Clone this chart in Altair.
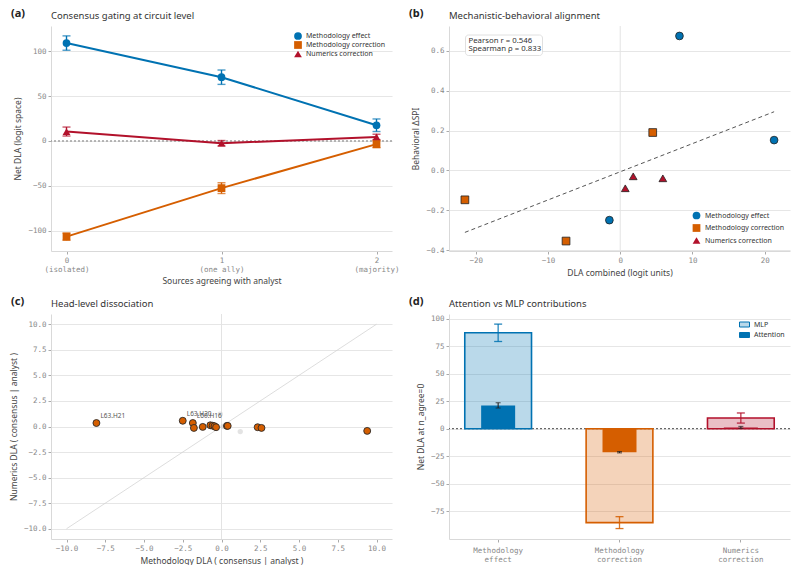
import altair as alt
import pandas as pd

SANS = "Noto Sans"
MONO = "DejaVu Sans Mono"
BLUE, ORANGE, RED = "#0072B2", "#D55E00", "#B2112B"

series_names = ["Methodology effect", "Methodology correction", "Numerics correction"]
series_colors = [BLUE, ORANGE, RED]
series_shapes = ["circle", "square", "triangle-up"]

# (a) circuit-level net DLA by number of agreeing sources
n_agree = [0, 1, 2]
n_agree_names = ["(isolated)", "(one ally)", "(majority)"]
dla_meth_effect = [109.0, 71.0, 17.5]
err_meth_effect = [8.0, 8.0, 7.0]
dla_meth_corr = [-106.5, -52.5, -3.5]
err_meth_corr = [4.0, 6.0, 4.0]
dla_num_corr = [10.5, -2.5, 4.5]
err_num_corr = [5.0, 3.0, 3.0]

# (b) mechanistic vs behavioral effect per condition
b_series = ["Methodology effect"] * 3 + ["Methodology correction"] * 3 + ["Numerics correction"] * 3
b_dla = [8.2, 21.3, -1.5, 4.5, -21.5, -7.5, 0.7, 1.8, 5.9]
b_dspi = [0.675, 0.152, -0.25, 0.19, -0.148, -0.355, -0.09, -0.03, -0.04]
pearson_r = 0.546
spearman_rho = 0.833

# (c) per-head DLA, methodology vs numerics
head_meth = [-8.07, -2.5, -1.85, -1.78, -1.21, -0.72, -0.57, -0.45, -0.35, 0.35, 0.40, 2.33, 2.58, 9.4]
head_num = [0.34, 0.56, 0.34, -0.14, -0.04, 0.12, 0.08, 0.03, -0.07, 0.06, 0.06, -0.07, -0.14, -0.43]
head_name = ["L63.H21", "L63.H20", "L60.H16", "", "", "", "", "", "", "", "", "", "", ""]
other_meth = [-0.08, 1.21, 0.1]
other_num = [1.2, -0.5, 0.0]
diag_range = [-10, 10]

# (d) attention vs MLP at n_agree = 0
comp_cats = ["Methodology effect", "Methodology correction", "Numerics correction"]
mlp_dla = [87.2, -85.4, 9.7]
mlp_err = [7.9, 5.4, 4.6]
attn_dla = [21.2, -21.4, 1.2]
attn_err = [2.4, 0.6, 0.9]
component_names = ["MLP", "Attention"]
component_fills = ["#bad9ea", BLUE]

W, H = 341, 225


def panel_header(tag, title):
    tag_layer = alt.Chart(pd.DataFrame({"t": [tag]})).mark_text(
        align="left", baseline="middle", font=SANS, fontSize=11, fontWeight="bold", color="#222"
    ).encode(x=alt.value(-40), y=alt.value(-12), text="t:N")
    title_layer = alt.Chart(pd.DataFrame({"t": [title]})).mark_text(
        align="left", baseline="middle", font=SANS, fontSize=9.5, color="#333"
    ).encode(x=alt.value(0), y=alt.value(-10.5), text="t:N")
    return [tag_layer, title_layer]


series_color_scale = alt.Scale(domain=series_names, range=series_colors)
series_shape_scale = alt.Scale(domain=series_names, range=series_shapes)

# ---------------- (a) ----------------
rows_a = []
for name, vals, errs in [
    (series_names[0], dla_meth_effect, err_meth_effect),
    (series_names[1], dla_meth_corr, err_meth_corr),
    (series_names[2], dla_num_corr, err_num_corr),
]:
    for n, v, e in zip(n_agree, vals, errs):
        rows_a.append({"n": n, "series": name, "dla": v, "lo": v - e, "hi": v + e})
df_a = pd.DataFrame(rows_a)

label_expr_a = (
    "split(datum.value == 0 ? '0|" + n_agree_names[0]
    + "' : (datum.value == 1 ? '1|" + n_agree_names[1] + "' : '2|" + n_agree_names[2] + "'), '|')"
)
sc_xa = alt.Scale(domain=[-0.1, 2.1], nice=False, zero=False)
sc_ya = alt.Scale(domain=[-122.5, 128], nice=False, zero=False)
ax_xa = alt.Axis(values=n_agree, labelExpr=label_expr_a, grid=False, title="Sources agreeing with analyst",
                 titlePadding=4, labelLineHeight=9)
ax_ya = alt.Axis(values=[-100, -50, 0, 50, 100], title="Net DLA (logit space)", titlePadding=5)
x_a = alt.X("n:Q", scale=sc_xa, axis=ax_xa)


def ya(field):
    return alt.Y(field, scale=sc_ya, axis=ax_ya)


legend_a = alt.Legend(orient="top-right", title=None, offset=6, padding=0, symbolSize=60, rowPadding=1,
                      labelFontSize=7, symbolStrokeWidth=0, symbolOpacity=1, labelOffset=4)
col_a = alt.Color("series:N", scale=series_color_scale, legend=None)

base_a = alt.Chart(df_a)
# legend carrier: listed first so its legend settings take precedence in the layer
key_a = base_a.mark_point(filled=True, opacity=0, size=1).encode(
    x=x_a, y=ya("dla:Q"),
    color=alt.Color("series:N", scale=series_color_scale, legend=legend_a),
    shape=alt.Shape("series:N", scale=series_shape_scale, legend=legend_a),
)
zero_a = alt.Chart(pd.DataFrame({"dla": [0]})).mark_rule(
    color="#777", strokeDash=[2, 2], strokeWidth=1).encode(y=ya("dla:Q"))
lines_a = base_a.mark_line(strokeWidth=2).encode(x=x_a, y=ya("dla:Q"), color=col_a)
err_a = base_a.mark_rule(strokeWidth=1.4).encode(x=x_a, y=ya("lo:Q"), y2="hi:Q", color=col_a)
cap_lo_a = base_a.mark_tick(orient="horizontal", size=8, thickness=1.4).encode(x=x_a, y=ya("lo:Q"), color=col_a)
cap_hi_a = base_a.mark_tick(orient="horizontal", size=8, thickness=1.4).encode(x=x_a, y=ya("hi:Q"), color=col_a)
pts_a = base_a.mark_point(filled=True, size=60, opacity=1).encode(
    x=x_a, y=ya("dla:Q"),
    color=col_a,
    shape=alt.Shape("series:N", scale=series_shape_scale, legend=None),
)
panel_a = alt.layer(key_a, zero_a, lines_a, err_a, cap_lo_a, cap_hi_a, pts_a,
                    *panel_header("(a)", "Consensus gating at circuit level")).properties(width=W, height=H)

# ---------------- (b) ----------------
df_b = pd.DataFrame({"series": b_series, "dla": b_dla, "dspi": b_dspi})
sc_xb = alt.Scale(domain=[-23.7, 23.5], nice=False, zero=False)
sc_yb = alt.Scale(domain=[-0.405, 0.725], nice=False, zero=False)
ax_xb = alt.Axis(values=[-20, -10, 0, 10, 20], grid=False, title="DLA combined (logit units)", titlePadding=5)
ax_yb = alt.Axis(values=[-0.4, -0.2, 0.0, 0.2, 0.4, 0.6], format=".1f", title="Behavioral ΔSPI", titlePadding=5)
x_b = alt.X("dla:Q", scale=sc_xb, axis=ax_xb)
y_b = alt.Y("dspi:Q", scale=sc_yb, axis=ax_yb)
legend_b = alt.Legend(orient="bottom-right", title=None, offset=5, padding=0, symbolSize=60, rowPadding=1.5,
                      labelFontSize=7, symbolStrokeColor="#222", symbolStrokeWidth=0.8, labelOffset=4)
vline_b = alt.Chart(pd.DataFrame({"dla": [0]})).mark_rule(color="#e3e3e3", strokeWidth=1).encode(x=x_b)
fit_b = alt.Chart(df_b).transform_regression("dla", "dspi").mark_line(
    color="#555", strokeDash=[4, 3], strokeWidth=1).encode(x=x_b, y=y_b)
pts_b = alt.Chart(df_b).mark_point(filled=True, size=60, opacity=1, stroke="#222", strokeWidth=0.8).encode(
    x=x_b, y=y_b,
    fill=alt.Fill("series:N", scale=series_color_scale, legend=legend_b),
    shape=alt.Shape("series:N", scale=series_shape_scale, legend=legend_b),
)
stats_text = ["Pearson r = %.3f" % pearson_r, "Spearman ρ = %.3f" % spearman_rho]
box_b = alt.Chart(pd.DataFrame({"t": [0]})).mark_rect(
    fill="white", stroke="#d8d8d8", strokeWidth=0.8, cornerRadius=3).encode(
    x=alt.value(16.5), x2=alt.value(93.5), y=alt.value(9), y2=alt.value(29.5))
stat_b = alt.Chart(pd.DataFrame({"t": [0]})).mark_text(
    align="left", baseline="top", font=SANS, fontSize=7.8, lineHeight=8.6, color="#333",
    text=stats_text).encode(x=alt.value(19.5), y=alt.value(10.6))
panel_b = alt.layer(vline_b, fit_b, pts_b, box_b, stat_b,
                    *panel_header("(b)", "Mechanistic-behavioral alignment")).properties(width=W, height=H)

# ---------------- (c) ----------------
df_c = pd.DataFrame({"meth": head_meth, "num": head_num, "name": head_name})
df_other = pd.DataFrame({"meth": other_meth, "num": other_num})
df_diag = pd.DataFrame({"meth": diag_range, "num": diag_range})
sc_c = alt.Scale(domain=[-11, 11], nice=False, zero=False)
ticks_c = [-10, -7.5, -5, -2.5, 0, 2.5, 5, 7.5, 10]
x_c = alt.X("meth:Q", scale=sc_c, axis=alt.Axis(values=ticks_c, format=".1f", grid=False,
                                                 title="Methodology DLA (  consensus | analyst  )", titlePadding=5))
y_c = alt.Y("num:Q", scale=sc_c, axis=alt.Axis(values=ticks_c, format=".1f",
                                               title="Numerics DLA (  consensus | analyst  )", titlePadding=5))
vline_c = alt.Chart(pd.DataFrame({"meth": [0]})).mark_rule(color="#e3e3e3", strokeWidth=1).encode(x=x_c)
diag_c = alt.Chart(df_diag).mark_line(color="#cfcfcf", strokeWidth=0.7).encode(x=x_c, y=y_c)
other_c = alt.Chart(df_other).mark_circle(size=28, color="#c8c8c8", opacity=0.5).encode(x=x_c, y=y_c)
pts_c = alt.Chart(df_c).mark_point(filled=True, size=48, fill=ORANGE, opacity=1, stroke="#2a2a2a",
                                   strokeWidth=0.9).encode(x=x_c, y=y_c)
lab_c = alt.Chart(df_c).transform_filter("datum.name != ''").mark_text(
    align="left", baseline="middle", dx=4, dy=-7, font=SANS, fontSize=6.5, color="#555").encode(
    x=x_c, y=y_c, text="name:N")
panel_c = alt.layer(vline_c, diag_c, other_c, pts_c, lab_c,
                    *panel_header("(c)", "Head-level dissociation")).properties(width=W, height=H)

# ---------------- (d) ----------------
df_d = pd.DataFrame({
    "cat": comp_cats,
    "mlp": mlp_dla,
    "mlp_lo": [v - e for v, e in zip(mlp_dla, mlp_err)],
    "mlp_hi": [v + e for v, e in zip(mlp_dla, mlp_err)],
    "attn": attn_dla,
    "attn_lo": [v - e for v, e in zip(attn_dla, attn_err)],
    "attn_hi": [v + e for v, e in zip(attn_dla, attn_err)],
})
sc_d = alt.Scale(domain=[-100.3, 104.3], nice=False, zero=False)
ax_yd = alt.Axis(values=[-75, -50, -25, 0, 25, 50, 75, 100], title="Net DLA at n_agree=0", titlePadding=5,
                 labelOverlap=False)
x_d = alt.X("cat:N", sort=comp_cats, scale=alt.Scale(paddingInner=0.45, paddingOuter=0.13),
            axis=alt.Axis(labelExpr="split(datum.value, ' ')", labelAngle=0, title=None, grid=False,
                          labelLineHeight=9.5, labelPadding=4))


def yd(field):
    return alt.Y(field, scale=sc_d, axis=ax_yd)


cat_scale = alt.Scale(domain=comp_cats, range=series_colors)
col_d = alt.Color("cat:N", scale=cat_scale, legend=None)
stroke_d = alt.Stroke("cat:N", scale=cat_scale, legend=None)

zero_d = alt.Chart(pd.DataFrame({"mlp": [0]})).mark_rule(
    color="#444", strokeDash=[2, 2], strokeWidth=1).encode(y=yd("mlp:Q"))
base_d = alt.Chart(df_d)
mlp_bar = base_d.mark_bar(fillOpacity=0.27, strokeWidth=1.6).encode(
    x=x_d, y=yd("mlp:Q"), color=col_d, stroke=stroke_d)
attn_bar = base_d.mark_bar(width=34).encode(x=x_d, y=yd("attn:Q"), color=col_d)
mlp_err_r = base_d.mark_rule(strokeWidth=1.3, opacity=0.85).encode(
    x=x_d, y=yd("mlp_lo:Q"), y2="mlp_hi:Q", color=col_d)
mlp_cap_lo = base_d.mark_tick(size=8, thickness=1.3, opacity=0.85).encode(x=x_d, y=yd("mlp_lo:Q"), color=col_d)
mlp_cap_hi = base_d.mark_tick(size=8, thickness=1.3, opacity=0.85).encode(x=x_d, y=yd("mlp_hi:Q"), color=col_d)
attn_err_r = base_d.mark_rule(strokeWidth=1.1, color="#222").encode(x=x_d, y=yd("attn_lo:Q"), y2="attn_hi:Q")
attn_cap_lo = base_d.mark_tick(size=5, thickness=1.1, color="#222").encode(x=x_d, y=yd("attn_lo:Q"))
attn_cap_hi = base_d.mark_tick(size=5, thickness=1.1, color="#222").encode(x=x_d, y=yd("attn_hi:Q"))
legend_d = alt.Legend(orient="top-right", title=None, offset=5, padding=0, symbolSize=100,
                      symbolType="M-1,-0.5H1V0.5H-1Z", symbolStrokeColor=BLUE, symbolStrokeWidth=1,
                      symbolOpacity=1, rowPadding=0.5, labelFontSize=7, labelOffset=4)
key_d = alt.Chart(pd.DataFrame({"component": component_names, "cat": [comp_cats[0]] * 2, "mlp": [0, 0]})).mark_point(
    filled=True, opacity=0, size=1).encode(
    x=x_d, y=yd("mlp:Q"),
    fill=alt.Fill("component:N", scale=alt.Scale(domain=component_names, range=component_fills),
                  legend=legend_d))
panel_d = alt.layer(zero_d, mlp_bar, attn_bar, mlp_err_r, mlp_cap_lo, mlp_cap_hi,
                    attn_err_r, attn_cap_lo, attn_cap_hi, key_d,
                    *panel_header("(d)", "Attention vs MLP contributions")).properties(width=W, height=H)

chart = alt.concat(
    panel_a, panel_b, panel_c, panel_d, columns=2, spacing={"row": 63, "column": 57}, bounds="flush"
).resolve_scale(
    color="independent", fill="independent", shape="independent", stroke="independent"
).resolve_legend(
    color="independent", fill="independent", shape="independent", stroke="independent"
).properties(
    padding={"left": 9, "top": 8, "right": 0, "bottom": 0}, background="white"
).configure_view(
    strokeWidth=0
).configure_axis(
    labelFont=MONO, labelFontSize=7.5, labelColor="#888", titleFont=SANS, titleFontSize=8.5,
    titleColor="#444", titleFontWeight="normal", domainColor="#d9d9d9", tickColor="#aaa", tickSize=3,
    gridColor="#e6e6e6", gridWidth=1.2, labelPadding=2
).configure_legend(
    labelFont=SANS, labelColor="#333"
)

chart.save("out.html", embed_options={"renderer": "svg", "actions": False})
